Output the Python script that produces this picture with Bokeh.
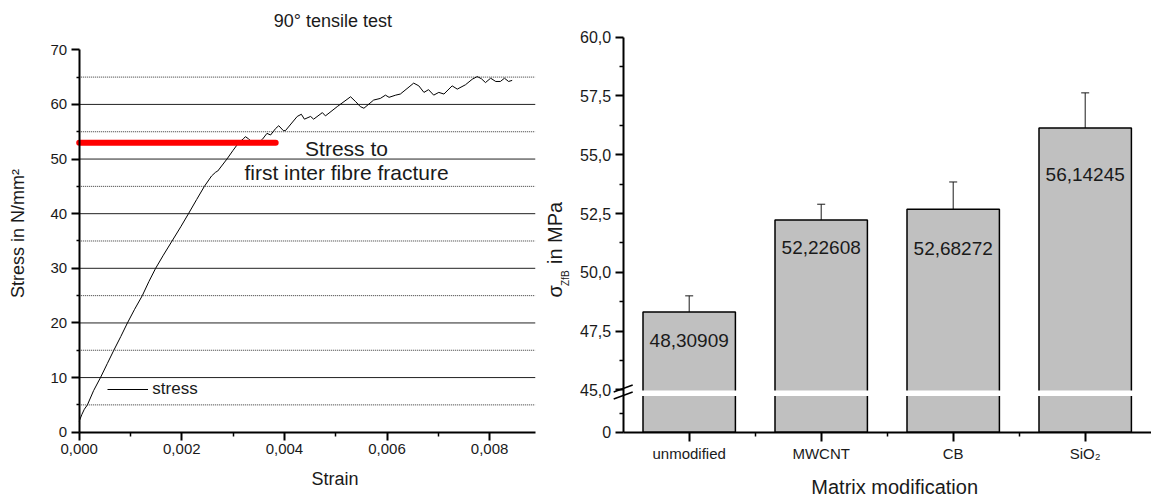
import math
from bokeh.plotting import figure
from bokeh.layouts import row
from bokeh.models import (FixedTicker, CustomJSTickFormatter, Label, Legend, LegendItem,
                          ColumnDataSource, Whisker, TeeHead, Range1d)
from bokeh.embed import file_html
from bokeh.resources import INLINE
from bokeh.core.properties import value

FONT = "Liberation Sans"
TXT = "#1a1a1a"

# ---------------- data: 90° tensile test (left) ----------------
strain = [0.0, 0.00005, 0.00010, 0.00016, 0.00028, 0.000415, 0.00055, 0.000675, 0.00081, 0.00094,
          0.00108, 0.00123, 0.00136, 0.00149, 0.00164, 0.00181, 0.00198, 0.00213, 0.00229, 0.00244,
          0.00258, 0.00266, 0.00270, 0.00288, 0.00300, 0.00311, 0.00320, 0.00324, 0.00330, 0.00337,
          0.00345, 0.00352, 0.00357, 0.00366, 0.00373, 0.00383, 0.00389, 0.00398, 0.00402, 0.00425,
          0.00433, 0.00439, 0.00451, 0.00457, 0.00474, 0.00480, 0.00503, 0.00529, 0.00539, 0.00548,
          0.00555, 0.00574, 0.00587, 0.00597, 0.00604, 0.00617, 0.00626, 0.00643, 0.00652, 0.00662,
          0.00672, 0.00681, 0.00691, 0.00701, 0.00711, 0.00727, 0.00737, 0.00753, 0.00766, 0.00776,
          0.00784, 0.00792, 0.00802, 0.00812, 0.00821, 0.00829, 0.00837, 0.00844]
stress = [2.0, 3.2, 4.2, 5.0, 7.6, 10.0, 12.6, 15.0, 17.5, 20.0,
          22.5, 25.0, 27.6, 30.0, 32.4, 35.0, 37.6, 40.0, 42.6, 45.0,
          46.9, 47.6, 47.8, 50.0, 51.6, 53.0, 53.7, 54.1, 53.7, 53.1,
          52.9, 53.2, 53.6, 54.7, 54.4, 55.6, 56.1, 55.2, 55.2, 57.8,
          58.2, 57.3, 57.8, 57.3, 58.5, 57.9, 59.6, 61.4, 60.5, 59.6,
          59.3, 60.8, 61.1, 61.7, 61.3, 61.7, 61.9, 63.2, 63.9, 63.4,
          62.2, 62.7, 61.7, 62.2, 61.9, 63.4, 62.8, 63.6, 64.6, 65.1,
          64.7, 64.0, 64.8, 64.2, 64.2, 64.8, 64.2, 64.4]
fracture_strain = [0.0, 0.00383]
fracture_stress = [53.0, 53.0]
strain_ticks = [0.0, 0.002, 0.004, 0.006, 0.008]
strain_minor = [0.001, 0.003, 0.005, 0.007]
strain_max = 0.00889
stress_ticks = [0, 10, 20, 30, 40, 50, 60, 70]
stress_minor = [5, 15, 25, 35, 45, 55, 65]

# ---------------- data: sigma_ZfB (right) ----------------
categories = ["unmodified", "MWCNT", "CB", "SiO₂"]
sigma_zfb = [48.30909, 52.22608, 52.68272, 56.14245]
sigma_err = [0.69, 0.67, 1.16, 1.49]
sigma_ticks = [45.0, 47.5, 50.0, 52.5, 55.0, 57.5, 60.0]
sigma_minor = [46.25, 48.75, 51.25, 53.75, 56.25, 58.75]

BREAK_AT = 45.0
LOW_ZERO = 43.2  # display position of 0 on the compressed lower segment


def to_display(v):
    return v if v >= BREAK_AT else LOW_ZERO + v * (BREAK_AT - LOW_ZERO) / BREAK_AT


# ---------------- layout (pixels) ----------------
H = 499
W1, W2 = 540, 611
L_X0, L_PXX = 78.7, 51300.0        # page x of strain 0, px per strain unit
L_Y0, L_PXY = 431.7, 5.463         # page y of stress 0, px per stress unit
R_X0, R_PXX = 622.7, 132.0         # page x of category 0.5, px per category
R_Y60, R_PXY = 36.7, 395.0 / (60.0 - LOW_ZERO)


def style_axis(ax, size, tick_out, minor_out, standoff):
    ax.axis_line_width = 2
    ax.axis_line_color = "black"
    ax.major_tick_line_width = 2
    ax.major_tick_line_color = "black"
    ax.minor_tick_line_width = 1.5
    ax.minor_tick_line_color = "black"
    ax.major_tick_in = 0
    ax.major_tick_out = tick_out
    ax.minor_tick_in = 0
    ax.minor_tick_out = minor_out
    ax.major_label_standoff = standoff
    ax.major_label_text_font = FONT
    ax.major_label_text_font_size = size
    ax.major_label_text_color = TXT


def page_text(p, fig_left, text, px, py, size, angle=0.0, align="center"):
    p.add_layout(Label(x=px - fig_left, y=H - py, x_units="screen", y_units="screen",
                       text=text, angle=angle, text_font=FONT, text_font_size=size,
                       text_color=TXT, text_align=align, text_baseline="middle"))


# ================= left figure =================
p1 = figure(width=W1, height=H, output_backend="svg", toolbar_location=None,
            x_range=Range1d(-L_X0 / L_PXX, (W1 - L_X0) / L_PXX),
            y_range=Range1d(-(H - L_Y0) / L_PXY, L_Y0 / L_PXY),
            min_border_left=0, min_border_right=0, min_border_top=0, min_border_bottom=0)
p1.outline_line_color = None
p1.xgrid.visible = False
p1.ygrid.visible = False

p1.xaxis.fixed_location = 0
p1.xaxis.bounds = (0, strain_max)
p1.xaxis.ticker = FixedTicker(ticks=strain_ticks, minor_ticks=strain_minor)
p1.xaxis.formatter = CustomJSTickFormatter(code="return tick.toFixed(3).replace('.', ',');")
p1.yaxis.fixed_location = 0
p1.yaxis.bounds = (0, 70)
p1.yaxis.ticker = FixedTicker(ticks=stress_ticks, minor_ticks=stress_minor)
style_axis(p1.xaxis[0], "15px", 8, 4, 4)
style_axis(p1.yaxis[0], "15px", 8, 3, 4)

# horizontal grid lines (solid at the inner major ticks, dotted at the minor ones)
g_major = stress_ticks[1:-1]
p1.segment(x0=[0] * len(g_major), y0=g_major, x1=[strain_max] * len(g_major), y1=g_major,
           line_color="#222222", line_width=1)
p1.segment(x0=[0] * len(stress_minor), y0=stress_minor, x1=[strain_max] * len(stress_minor),
           y1=stress_minor, line_color="#333333", line_width=1, line_dash="1 1")

curve = p1.line(strain, stress, line_color="black", line_width=1)
p1.line(fracture_strain, fracture_stress, line_color="#ff0000", line_width=6, line_cap="round")

page_text(p1, 0, "Stress to", 346, 148, "21px")
page_text(p1, 0, "first inter fibre fracture", 346, 171.5, "21px")

leg = Legend(items=[LegendItem(label="stress", renderers=[curve])], location=(107.3, H - 399.3),
             padding=0, margin=0, spacing=0, glyph_width=41, glyph_height=20, label_height=20,
             label_standoff=4, label_text_font=FONT, label_text_font_size="17px",
             label_text_color=TXT, border_line_color=None, background_fill_alpha=0)
p1.add_layout(leg)

page_text(p1, 0, "90° tensile test", 332.3, 20, "18px")
page_text(p1, 0, "Strain", 334.5, 478.3, "18px")
page_text(p1, 0, "Stress in N/mm²", 17.5, 233, "18px", angle=math.pi / 2)

# ================= right figure =================
p2 = figure(width=W2, height=H, output_backend="svg", toolbar_location=None,
            x_range=Range1d(0.5 - (R_X0 - W1) / R_PXX, 0.5 + (W1 + W2 - R_X0) / R_PXX),
            y_range=Range1d(60.0 - (H - R_Y60) / R_PXY, 60.0 + R_Y60 / R_PXY),
            min_border_left=0, min_border_right=0, min_border_top=0, min_border_bottom=0)
p2.outline_line_color = None
p2.xgrid.visible = False
p2.ygrid.visible = False

xs = list(range(1, len(categories) + 1))
p2.xaxis.fixed_location = to_display(0)
p2.xaxis.bounds = (0.5, len(categories) + 0.5)
p2.xaxis.ticker = FixedTicker(ticks=xs, minor_ticks=[x + 0.5 for x in xs[:-1]])
p2.xaxis.formatter = CustomJSTickFormatter(args=dict(cats=categories), code="""
    const i = Math.round(tick) - 1;
    return (i >= 0 && i < cats.length) ? cats[i] : '';
""")
p2.yaxis.fixed_location = 0.5
p2.yaxis.bounds = (to_display(0), 60.0)
p2.yaxis.ticker = FixedTicker(ticks=[to_display(0)] + sigma_ticks,
                              minor_ticks=[to_display(20)] + sigma_minor)
p2.yaxis.formatter = CustomJSTickFormatter(args=dict(z=to_display(0)), code="""
    if (Math.abs(tick - z) < 1e-6) { return '0'; }
    return tick.toFixed(1).replace('.', ',');
""")
style_axis(p2.xaxis[0], "15px", 9, 4, 4)
style_axis(p2.yaxis[0], "16px", 8, 4, 4)

src = ColumnDataSource(dict(
    x=xs,
    top=sigma_zfb,
    bottom=[to_display(0)] * len(xs),
    upper=[v + e for v, e in zip(sigma_zfb, sigma_err)],
    lower=[v - e for v, e in zip(sigma_zfb, sigma_err)],
    label=[f"{v:.5f}".replace(".", ",") for v in sigma_zfb],
    label_y=[v - e - 0.5 for v, e in zip(sigma_zfb, sigma_err)],
))
p2.vbar(x="x", top="top", bottom="bottom", width=0.7, source=src,
        fill_color="#c0c0c0", line_color="black", line_width=1.5)
# axis break band
p2.quad(left=[0.5], right=[len(categories) + 0.5], bottom=[44.74], top=[44.97],
        fill_color="white", line_color=None)


def rx(px):
    return 0.5 + (px - R_X0) / R_PXX


def ry(py):
    return 60.0 - (py - R_Y60) / R_PXY


# break marks on the y axis
p2.segment(x0=[rx(613.2), rx(613.2)], y0=[ry(391.5), ry(398.5)],
           x1=[rx(632.2), rx(632.2)], y1=[ry(384.5), ry(391.5)],
           line_color="black", line_width=1.5)

p2.add_layout(Whisker(source=src, base="x", upper="upper", lower="lower",
                      line_color=TXT, line_width=1,
                      upper_head=TeeHead(size=8, line_color=TXT, line_width=1),
                      lower_head=TeeHead(size=8, line_color=TXT, line_width=1)))
p2.text(x="x", y="label_y", text="label", source=src, text_align="center",
        text_baseline="middle", text_font=value(FONT), text_font_size="19px", text_color=TXT)

page_text(p2, W1, "Matrix modification", 894.2, 486, "20px")
page_text(p2, W1, "σ", 554.5, 297, "20px", angle=math.pi / 2, align="left")
page_text(p2, W1, "ZfB", 565, 285.5, "10px", angle=math.pi / 2, align="left")
page_text(p2, W1, "in MPa", 554.5, 263.5, "20px", angle=math.pi / 2, align="left")

layout = row(p1, p2, spacing=0)
open("out.html", "w").write(file_html(layout, INLINE))
